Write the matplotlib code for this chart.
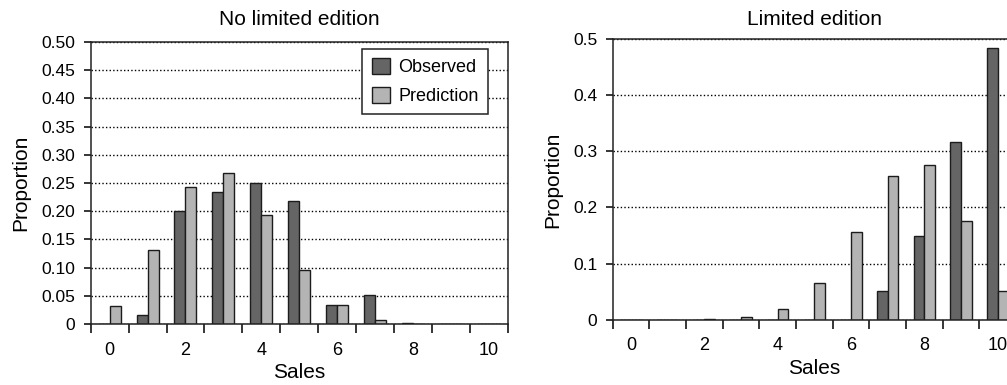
import numpy as np
import matplotlib
matplotlib.use("Agg")
from matplotlib import pyplot as plt

plt.rcParams['font.family'] = ['Liberation Sans', 'DejaVu Sans']

# Sales categories 0..10
sales = np.arange(11)

# No limited edition
obs_nolim = [0.0, 0.0165, 0.200, 0.234, 0.2505, 0.2175, 0.033, 0.0508, 0.0015, 0.0, 0.0]
pred_nolim = [0.032, 0.1305, 0.2425, 0.267, 0.193, 0.0965, 0.033, 0.007, 0.0005, 0.0, 0.0]

# Limited edition
obs_lim = [0.0, 0.0, 0.0, 0.0, 0.0, 0.0, 0.0, 0.0505, 0.150, 0.3165, 0.4835]
pred_lim = [0.0, 0.0, 0.0015, 0.004, 0.019, 0.0645, 0.1555, 0.2555, 0.2755, 0.1765, 0.051]

yticks_nolim = [0, 0.05, 0.10, 0.15, 0.20, 0.25, 0.30, 0.35, 0.40, 0.45, 0.50]
ytick_labels_nolim = ['0', '0.05', '0.10', '0.15', '0.20', '0.25', '0.30', '0.35', '0.40', '0.45', '0.50']
yticks_lim = [0, 0.1, 0.2, 0.3, 0.4, 0.5]
ytick_labels_lim = ['0', '0.1', '0.2', '0.3', '0.4', '0.5']
xtick_labels = ['0', '2', '4', '6', '8', '10']

dark = '#656565'
light = '#b4b4b4'
edge = '#1c1c1c'
w = 0.29


def draw(ax, obs, pred, yticks, ylabels, title, title_pad):
    ax.set_axisbelow(True)
    ax.bar(sales - w / 2, obs, width=w, color=dark, edgecolor=edge, linewidth=1.0, label='Observed')
    ax.bar(sales + w / 2, pred, width=w, color=light, edgecolor=edge, linewidth=1.0, label='Prediction')
    ax.set_xlim(-0.5, 10.5)
    ax.set_ylim(0, 0.5)
    ax.set_yticks(yticks)
    ax.set_yticklabels(ylabels)
    ax.yaxis.grid(True, color='black', linestyle=(0, (1, 1.6)), linewidth=1.0)
    # category labels at centres, tick marks at the boundaries
    ax.set_xticks(sales[::2])
    ax.set_xticklabels(xtick_labels)
    ax.set_xticks(np.arange(-0.5, 11, 1), minor=True)
    ax.tick_params(axis='x', which='major', length=0, pad=12.7, labelsize=13)
    ax.tick_params(axis='x', which='minor', length=6.3, width=1.1, direction='out')
    ax.tick_params(axis='y', length=5, width=1.1, pad=6, labelsize=12.5)
    for s in ax.spines.values():
        s.set_linewidth(1.1)
        s.set_color('#222222')
    ax.set_title(title, fontsize=15, pad=title_pad)
    ax.set_xlabel('Sales', fontsize=15, labelpad=3)
    ax.set_ylabel('Proportion', fontsize=15, labelpad=7.7)


fig = plt.figure(figsize=(10.07, 3.85), dpi=100)

ax1 = fig.add_axes([0.090, 0.1584, 0.4145, 0.7325])
draw(ax1, obs_nolim, pred_nolim, yticks_nolim, ytick_labels_nolim, 'No limited edition', 12)
leg = ax1.legend(loc='upper right', bbox_to_anchor=(0.952, 0.974), borderaxespad=0,
                 fontsize=13, fancybox=False, framealpha=1, edgecolor='#222222',
                 handlelength=1.05, handleheight=0.95, handletextpad=0.45,
                 borderpad=0.5, labelspacing=0.6)
leg.get_frame().set_linewidth(1.1)

ax2 = fig.add_axes([0.6084, 0.1696, 0.4005, 0.729])
draw(ax2, obs_lim, pred_lim, yticks_lim, ytick_labels_lim, 'Limited edition', 10)

fig.savefig('out.png', dpi=100)
